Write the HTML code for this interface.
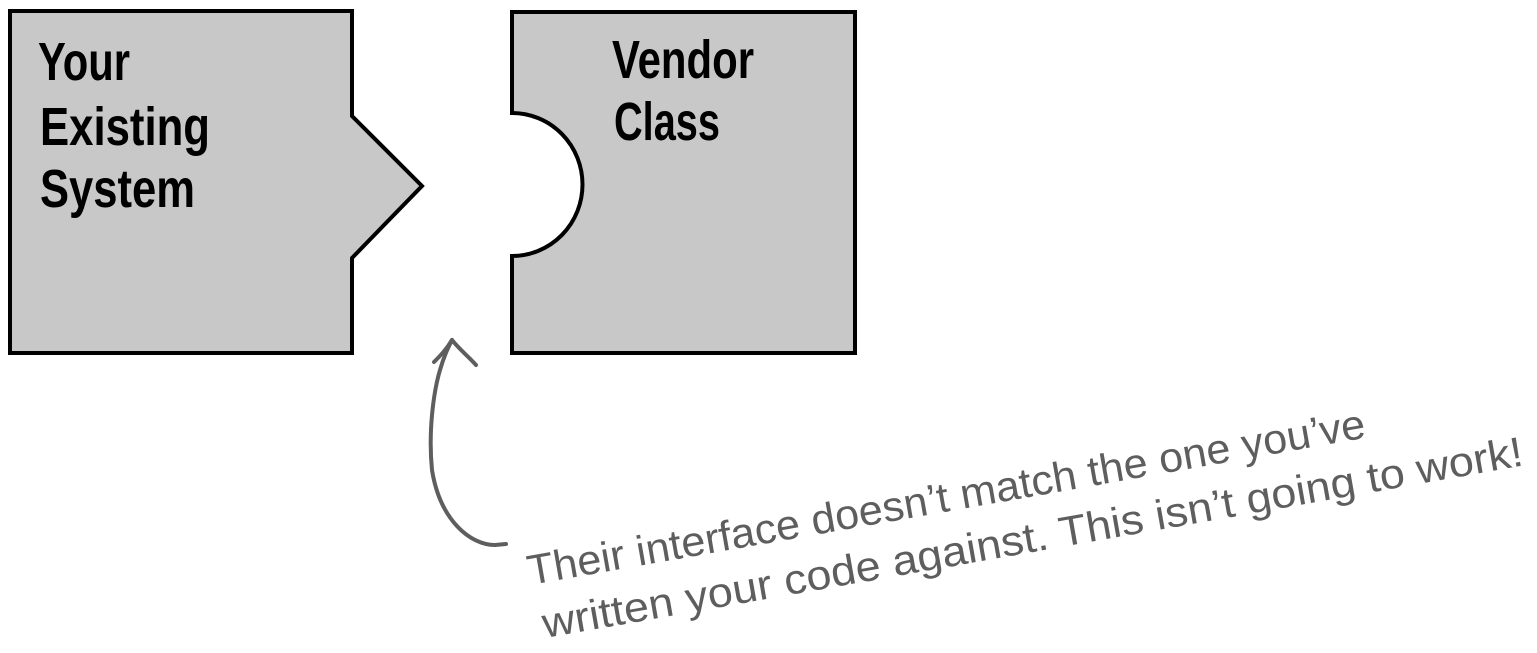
<!DOCTYPE html>
<html><head><meta charset="utf-8"><style>
html,body{margin:0;padding:0;background:#fff;}
body{width:1537px;height:648px;overflow:hidden;}
</style></head><body>
<svg width="1537" height="648" viewBox="0 0 1537 648" xmlns="http://www.w3.org/2000/svg">
<path d="M10 11 H352 V116 L422 186 L352 258 V353 H10 Z" fill="#c8c8c8" stroke="#000" stroke-width="4" stroke-linejoin="miter"/>
<path d="M512 12 H855 V353 H512 V256 A70 71 0 0 0 512 113 Z" fill="#c8c8c8" stroke="#000" stroke-width="4"/>
<g font-family="'Liberation Sans Narrow','Liberation Sans',sans-serif" font-weight="bold" font-size="54" fill="#000">
<text x="38" y="80" textLength="92" lengthAdjust="spacingAndGlyphs">Your</text>
<text x="40" y="145" textLength="170" lengthAdjust="spacingAndGlyphs">Existing</text>
<text x="40" y="207" textLength="155" lengthAdjust="spacingAndGlyphs">System</text>
<text x="612" y="78" textLength="142" lengthAdjust="spacingAndGlyphs">Vendor</text>
<text x="614" y="140" textLength="106" lengthAdjust="spacingAndGlyphs">Class</text>
</g>
<g fill="none" stroke="#5e5e5e" stroke-width="4" stroke-linecap="round">
<path d="M506 544 L495 545 C470 545 440 520 432 470 C428 430 434 390 440 370 C444 356 448 348 452 340"/>
<path d="M452 340 C446 350 440 356 434 362"/>
<path d="M452 340 C460 350 468 356 476 365"/>
</g>
<g font-family="'Liberation Sans Narrow','Liberation Sans',sans-serif" font-size="42" fill="#5e5e5e">
<text transform="translate(530,585) rotate(-10)" textLength="850" lengthAdjust="spacingAndGlyphs">Their interface doesn’t match the one you’ve</text>
<text transform="translate(545,638) rotate(-10)" textLength="995" lengthAdjust="spacingAndGlyphs">written your code against. This isn’t going to work!</text>
</g>
</svg>
</body></html>
